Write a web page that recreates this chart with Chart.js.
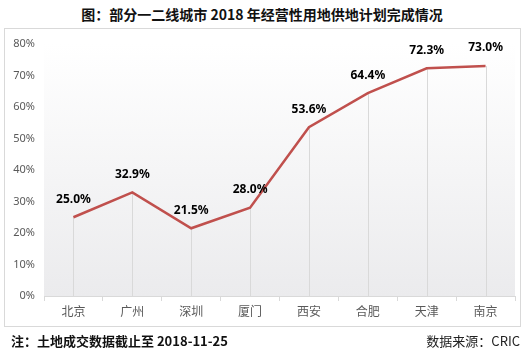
<!DOCTYPE html>
<html>
<head>
<meta charset="utf-8">
<script src="https://cdn.jsdelivr.net/npm/chart.js@4"></script>
<style>
  body { margin: 0; background: #fff; font-family: "Noto Sans CJK SC", "Noto Sans", sans-serif; }
  #wrap { position: relative; width: 532px; height: 351px; overflow: hidden; }
  #title { position: absolute; left: 0; top: 4px; width: 524px; text-align: center; font-size: 14px; font-weight: bold; color: #111; line-height: 20px; }
  #frame { position: absolute; left: 4px; top: 28px; width: 517px; height: 299px; border: 1px solid #d9d9d9; box-sizing: border-box; }
  #note { position: absolute; left: 11px; top: 331px; font-size: 13px; font-weight: bold; color: #111; line-height: 20px; }
  #source { position: absolute; right: 12px; top: 331px; font-size: 13px; color: #222; line-height: 20px; }
  canvas { position: absolute; left: 0; top: 0; }
</style>
</head>
<body>
<div id="wrap">
  <div id="title">图：部分一二线城市 2018 年经营性用地供地计划完成情况</div>
  <div id="frame"></div>
  <canvas id="line-supply" width="532" height="351"></canvas>
  <div id="note">注：土地成交数据截止至 2018-11-25</div>
  <div id="source">数据来源：CRIC</div>
</div>
<script>
// categories and completion rates (%)
const cities = ["北京", "广州", "深圳", "厦门", "西安", "合肥", "天津", "南京"];
const completion = [25.0, 32.9, 21.5, 28.0, 53.6, 64.4, 72.3, 73.0];
const yTicks = [0, 10, 20, 30, 40, 50, 60, 70, 80];

const lineColor = "#c0504d";
const gridColor = "#d9d9d9";

// plot background: light vertical gradient
const plotBackground = {
	id: "plotBackground",
	beforeDraw(chart) {
		let { ctx, chartArea } = chart;
		let g = ctx.createLinearGradient(0, chartArea.top, 0, chartArea.bottom);
		g.addColorStop(0, "#ffffff");
		g.addColorStop(1, "#ebebed");
		ctx.save();
		ctx.fillStyle = g;
		ctx.fillRect(chartArea.left, chartArea.top, chartArea.right - chartArea.left, chartArea.bottom - chartArea.top);
		ctx.restore();
	},
	// drop lines from each point down to the axis
	beforeDatasetsDraw(chart) {
		let { ctx, chartArea } = chart;
		let meta = chart.getDatasetMeta(0);
		ctx.save();
		ctx.strokeStyle = gridColor;
		ctx.lineWidth = 1;
		meta.data.forEach((pt) => {
			let x = Math.round(pt.x) + 0.5;
			ctx.beginPath();
			ctx.moveTo(x, pt.y);
			ctx.lineTo(x, chartArea.bottom);
			ctx.stroke();
		});
		ctx.restore();
	},
};

// value labels above points
const valueLabels = {
	id: "valueLabels",
	afterDatasetsDraw(chart) {
		let { ctx } = chart;
		let meta = chart.getDatasetMeta(0);
		ctx.save();
		ctx.font = "bold 12px 'Noto Sans', 'DejaVu Sans', sans-serif";
		ctx.fillStyle = "#000";
		ctx.textAlign = "center";
		ctx.textBaseline = "middle";
		meta.data.forEach((pt, i) => {
			ctx.fillText(completion[i].toFixed(1) + "%", pt.x, pt.y - 18);
		});
		ctx.restore();
	},
};

Chart.register(plotBackground, valueLabels);

new Chart(document.getElementById("line-supply").getContext("2d"), {
	type: "line",
	data: {
		labels: cities,
		datasets: [
			{
				data: completion,
				borderColor: lineColor,
				borderWidth: 2.5,
				pointRadius: 0,
				tension: 0,
				fill: false,
			},
		],
	},
	options: {
		responsive: false,
		animation: false,
		events: [],
		layout: { padding: { left: 0, right: 17, top: 44, bottom: 0 } },
		plugins: {
			legend: { display: false },
			tooltip: { enabled: false },
			title: { display: false },
		},
		scales: {
			x: {
				offset: true,
				grid: {
					offset: true,
					display: true,
					drawOnChartArea: false,
					drawTicks: true,
					tickLength: 5,
					color: gridColor,
				},
				border: { display: true, color: gridColor },
				ticks: {
					color: "#595959",
					padding: 3,
					font: { size: 12, family: "'Noto Sans CJK SC', sans-serif" },
					maxRotation: 0,
				},
				afterFit(scale) {
					scale.height = 55;
				},
			},
			y: {
				min: 0,
				max: 80,
				afterBuildTicks(scale) {
					scale.ticks = yTicks.map((v) => ({ value: v }));
				},
				grid: { display: false, drawTicks: false },
				border: { display: false },
				ticks: {
					color: "#595959",
					padding: 9,
					font: { size: 11, family: "'Noto Sans', sans-serif" },
					callback: (v) => v + "%",
				},
				afterFit(scale) {
					scale.width = 44;
				},
			},
		},
	},
});
</script>
</body>
</html>
